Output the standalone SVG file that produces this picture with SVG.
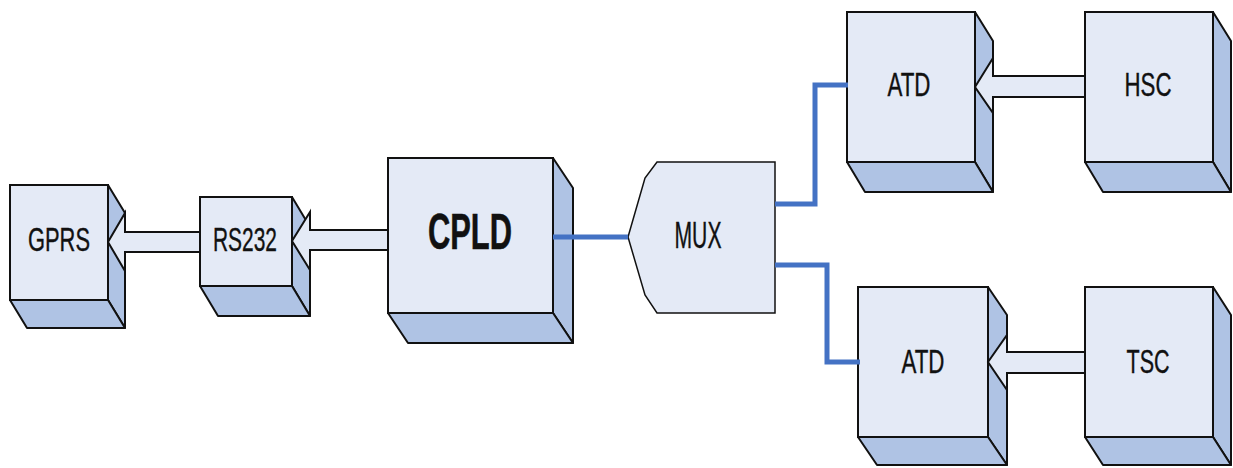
<svg xmlns="http://www.w3.org/2000/svg" width="1233" height="468" viewBox="0 0 1233 468">
<style>
.front{fill:#E4EAF6;stroke:#111;stroke-width:2}
.shade{fill:#AFC3E4;stroke:#111;stroke-width:2;stroke-linejoin:round}
.arrow{fill:#E4EAF6;stroke:#111;stroke-width:2;stroke-linejoin:miter}
.bus{fill:none;stroke:#4472C4;stroke-width:5}
.lbl{font-family:"Liberation Sans",Arial,sans-serif;font-size:34px;fill:#111;text-anchor:middle;stroke:#111;stroke-width:0.4}
.big{font-size:50px;font-weight:bold;stroke-width:0.6}
</style>
<rect width="1233" height="468" fill="#fff"/>
<g id="GPRS">
<polygon class="shade" points="108,185 125,213 125,328 108,300"/>
<polygon class="shade" points="10,300 27,328 125,328 108,300"/>
<rect class="front" x="10" y="185" width="98" height="115"/>
<text class="lbl" x="59" y="251" textLength="62" lengthAdjust="spacingAndGlyphs">GPRS</text>
</g>
<g id="RS232">
<polygon class="shade" points="292,197 310,227 310,316 292,286"/>
<polygon class="shade" points="200,286 218,316 310,316 292,286"/>
<rect class="front" x="200" y="197" width="92" height="89"/>
<text class="lbl" x="245" y="251" textLength="64" lengthAdjust="spacingAndGlyphs">RS232</text>
</g>
<g id="CPLD">
<polygon class="shade" points="553,158 573,188 573,343 553,313"/>
<polygon class="shade" points="388,313 408,343 573,343 553,313"/>
<rect class="front" x="388" y="158" width="165" height="155"/>
<text class="lbl big" x="470" y="249" textLength="84" lengthAdjust="spacingAndGlyphs">CPLD</text>
</g>
<g id="MUX">
<polygon class="front" points="657,162 775,162 775,313 657,313 645,295 628,237 645,178" style="stroke-width:1.5"/>
<text class="lbl" x="698" y="248" style="font-size:37px" textLength="47" lengthAdjust="spacingAndGlyphs">MUX</text>
</g>
<g id="ATD1">
<polygon class="shade" points="975,12 993,41 993,192 975,162"/>
<polygon class="shade" points="847,162 865,192 993,192 975,162"/>
<rect class="front" x="847" y="12" width="128" height="150"/>
<text class="lbl" x="909" y="96" textLength="43" lengthAdjust="spacingAndGlyphs">ATD</text>
</g>
<g id="HSC">
<polygon class="shade" points="1213,12 1231,41 1231,192 1213,162"/>
<polygon class="shade" points="1085,162 1103,192 1231,192 1213,162"/>
<rect class="front" x="1085" y="12" width="128" height="150"/>
<text class="lbl" x="1148" y="96" textLength="47" lengthAdjust="spacingAndGlyphs">HSC</text>
</g>
<g id="ATD2">
<polygon class="shade" points="988,287 1007,315 1007,465 988,437"/>
<polygon class="shade" points="858,437 877,465 1007,465 988,437"/>
<rect class="front" x="858" y="287" width="130" height="150"/>
<text class="lbl" x="923" y="373" textLength="43" lengthAdjust="spacingAndGlyphs">ATD</text>
</g>
<g id="TSC">
<polygon class="shade" points="1213,287 1231,315 1231,465 1213,437"/>
<polygon class="shade" points="1085,437 1103,465 1231,465 1213,437"/>
<rect class="front" x="1085" y="287" width="128" height="150"/>
<text class="lbl" x="1148" y="373" textLength="43" lengthAdjust="spacingAndGlyphs">TSC</text>
</g>
<g id="connectors">
<polygon class="arrow" points="108,242 125,213 125,232 200,232 200,252 125,252 125,271"/>
<polygon class="arrow" points="292,241 310,212 310,230 388,230 388,250 310,250 310,270"/>
<polygon class="arrow" points="975,87 993,58 993,76 1085,76 1085,97 993,97 993,113"/>
<polygon class="arrow" points="988,362 1007,335 1007,352 1085,352 1085,373 1007,373 1007,390"/>
<path class="bus" d="M553,237 H628"/>
<path class="bus" d="M775,204 H815 V85 H848"/>
<path class="bus" d="M775,265 H827 V362 H860"/>
</g>
</svg>
